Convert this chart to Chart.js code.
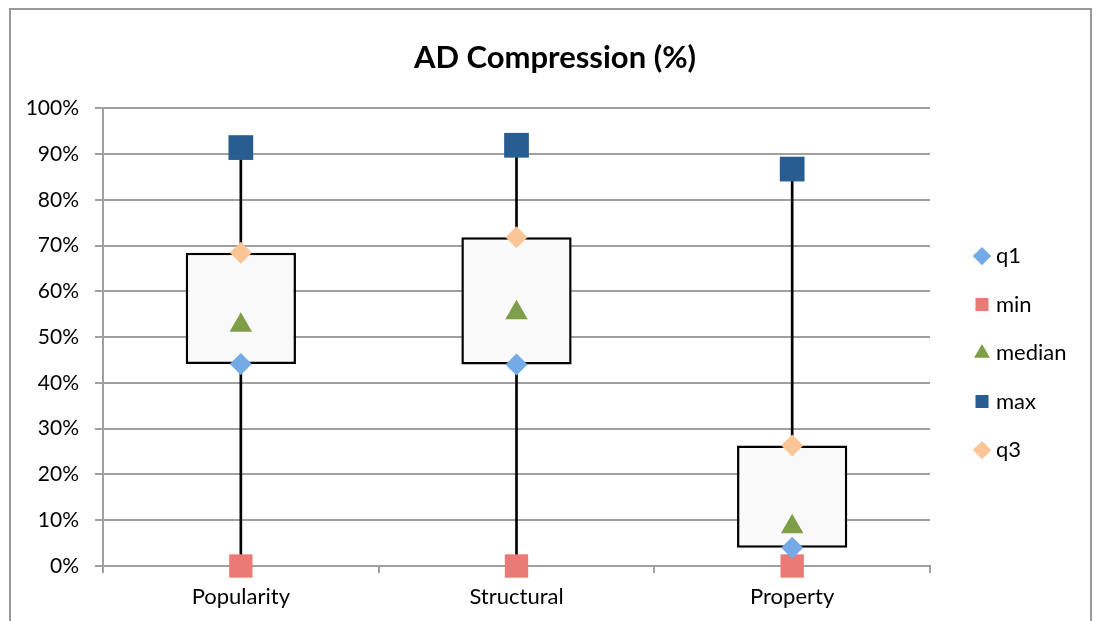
<!DOCTYPE html>
<html><head><meta charset="utf-8">
<script src="https://cdn.jsdelivr.net/npm/chart.js@4"></script>
<style>
html,body{margin:0;padding:0;background:#fff;}
#wrap{position:relative;width:1096px;height:621px;overflow:hidden;}
#frame{position:absolute;left:9px;top:8px;width:1083px;height:700px;border:2px solid #9a9a9a;box-sizing:border-box;}
canvas{position:absolute;left:0;top:0;}
</style></head><body>
<div id="wrap"><div id="frame"></div><canvas id="c" width="1096" height="621"></canvas></div>
<script>
const categories = ['Popularity', 'Structural', 'Property'];
const q1Values = [44.1, 44.0, 4.0];
const minValues = [0, 0, 0];
const medianValues = [52.6, 55.3, 8.6];
const maxValues = [91.4, 91.9, 86.7];
const q3Values = [68.4, 71.8, 26.3];
const seriesNames = ['q1', 'min', 'median', 'max', 'q3'];

const FONT = 'Lato';
const GRID = '#9f9f9f';

const boxData = categories.map((_, i) => [q1Values[i], q3Values[i]]);
const whiskerData = categories.map((_, i) => [minValues[i], maxValues[i]]);

const legendFontSize = 22, legendPad = 26.5, legendBoxW = 6;
const mctx = document.createElement('canvas').getContext('2d');
mctx.font = legendFontSize + 'px ' + FONT;
const maxText = Math.max(...seriesNames.map(s => mctx.measureText(s).width));
const legendWidth = legendPad + legendBoxW + legendFontSize / 2 + maxText + 10;
const gapW = 22.5;
const outerW = Math.max(0, 1096 - 930 - gapW - legendWidth);
const leftPad = 14;

function marker(label, data, style, color, radius) {
  return {
    type: 'line', label, data, showLine: false, order: 0, clip: false,
    pointStyle: style, pointRadius: radius, pointHoverRadius: radius,
    backgroundColor: color, borderColor: color,
    pointBackgroundColor: color, pointBorderColor: color, pointBorderWidth: 0
  };
}

new Chart(document.getElementById('c'), {
  data: {
    labels: categories,
    datasets: [
      marker(seriesNames[0], q1Values, 'rectRot', '#74aae6', 11),
      marker(seriesNames[1], minValues, 'rect', '#ea7a75', 16.5),
      marker(seriesNames[2], medianValues, 'triangle', '#7e9f47', 13),
      marker(seriesNames[3], maxValues, 'rect', '#285d92', 17.5),
      marker(seriesNames[4], q3Values, 'rectRot', '#fbc596', 11),
      { type: 'bar', label: 'box', data: boxData, order: 1, grouped: false,
        backgroundColor: '#f9f9f9', borderColor: '#000', borderWidth: 2.5, borderSkipped: false,
        barPercentage: 0.4, categoryPercentage: 1 },
      { type: 'bar', label: 'whisker', data: whiskerData, order: 2, grouped: false,
        backgroundColor: '#000', borderWidth: 0, barThickness: 2 }
    ]
  },
  options: {
    responsive: false, animation: false,
    events: [],
    layout: { padding: { left: leftPad, right: 0, top: 0, bottom: 0 } },
    plugins: {
      tooltip: { enabled: false },
      title: { display: true, text: 'AD Compression (%)', color: '#000',
        font: { family: FONT, size: 31, weight: 'bold' }, padding: { top: 39, bottom: 32 } },
      legend: {
        position: 'right', align: 'center', fullSize: false,
        title: { display: true, text: ' ', font: { size: 10 }, padding: { top: 20, bottom: 0 } },
        labels: {
          usePointStyle: true, boxWidth: legendBoxW, boxHeight: 13, padding: legendPad,
          color: '#000', font: { family: FONT, size: legendFontSize },
          filter: (item, data) => data.datasets[item.datasetIndex].type === 'line'
        }
      }
    },
    scales: {
      x: {
        type: 'category', offset: true,
        grid: { display: true, drawOnChartArea: false, drawTicks: true, tickLength: 7, color: GRID, lineWidth: 2, offset: true },
        border: { display: true, color: GRID, width: 2 },
        ticks: { color: '#000', font: { family: FONT, size: 22 }, padding: 11 },
        afterFit: s => { s.height = 55; }
      },
      y: {
        min: 0, max: 100,
        ticks: { stepSize: 10, callback: v => v + '%', color: '#000', font: { family: FONT, size: 21 }, padding: 16 },
        grid: { color: GRID, lineWidth: 2, tickLength: 8, drawTicks: true },
        border: { display: true, color: GRID, width: 2 },
        afterFit: s => { s.width = 103 - leftPad; }
      },
      y2: {
        position: 'right', min: 0, max: 100, display: true, weight: 0,
        grid: { display: false }, ticks: { display: false }, border: { display: false },
        afterFit: s => { s.width = gapW; }
      },
      y3: {
        position: 'right', min: 0, max: 100, display: true, weight: 5000,
        grid: { display: false }, ticks: { display: false }, border: { display: false },
        afterFit: s => { s.width = outerW; }
      }
    }
  }
});
</script>
</body></html>
